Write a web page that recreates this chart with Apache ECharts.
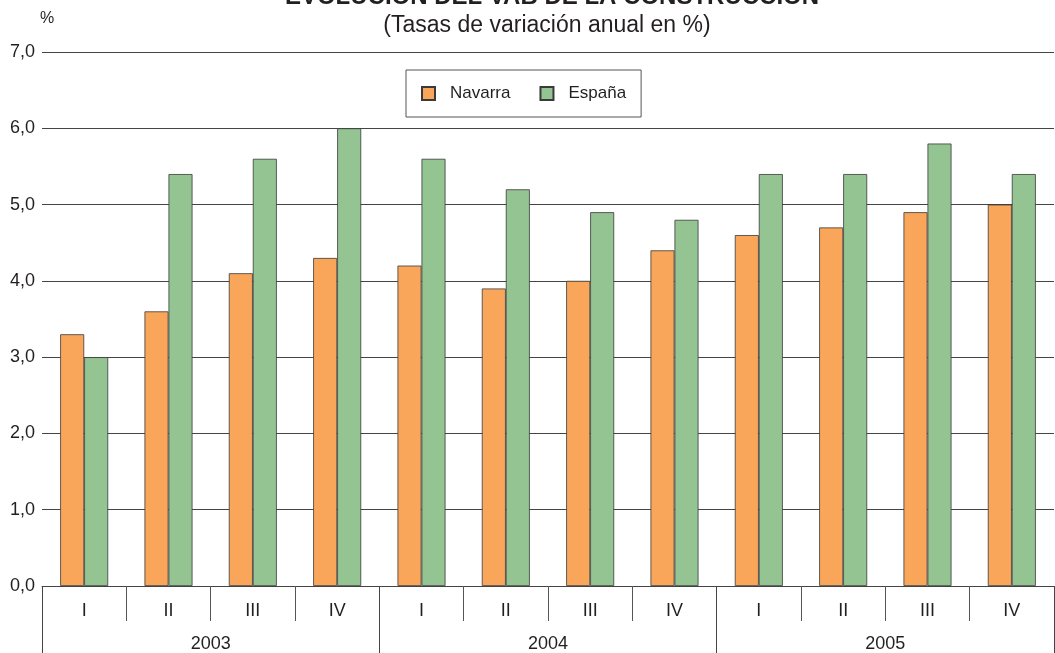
<!DOCTYPE html>
<html>
<head>
<meta charset="utf-8">
<script src="https://cdn.jsdelivr.net/npm/echarts@6/dist/echarts.min.js"></script>
<style>html,body{margin:0;padding:0;background:#fff;}#c{width:1055px;height:653px;}</style>
</head>
<body>
<div id="c"></div>
<script>
var quarters = ['I','II','III','IV','I','II','III','IV','I','II','III','IV'];
var years = ['2003','2004','2005'];
var navarra = [3.3, 3.6, 4.1, 4.3, 4.2, 3.9, 4.0, 4.4, 4.6, 4.7, 4.9, 5.0];
var espana = [3.0, 5.4, 5.6, 6.0, 5.6, 5.2, 4.9, 4.8, 5.4, 5.4, 5.8, 5.4];
var seriesNames = ['Navarra', 'España'];

var font = '"Liberation Sans", Arial, sans-serif';
var txt = '#231f20';
var chart = echarts.init(document.getElementById('c'));
chart.setOption({
  animation: false,
  textStyle: {fontFamily: font},
  title: [
    {text: 'EVOLUCIÓN DEL VAB DE LA CONSTRUCCIÓN', left: 547, textAlign: 'center', top: -20,
     textStyle: {fontSize: 24, fontWeight: 'bold', color: txt, fontFamily: font}},
    {text: '(Tasas de variación anual en %)', left: 542, textAlign: 'center', top: 9,
     textStyle: {fontSize: 23, fontWeight: 'normal', color: txt, fontFamily: font}},
    {text: '%', left: 35, top: 6, textStyle: {fontSize: 16, fontWeight: 'normal', color: txt, fontFamily: font}}
  ],
  legend: {
    data: seriesNames,
    left: 406, top: 70,
    padding: [15, 15, 15, 15],
    borderColor: '#555', borderWidth: 1,
    itemWidth: 13, itemHeight: 13, itemGap: 29,
    icon: 'rect',
    textStyle: {fontSize: 17, color: txt, fontFamily: font, padding: [0, 0, 0, 10]}
  },
  grid: {left: 42, right: 1, top: 52, bottom: 64, containLabel: false},
  xAxis: [
    {type: 'category', data: quarters, position: 'bottom',
     axisLine: {lineStyle: {color: '#444', width: 1}},
     axisTick: {show: true, length: 35, interval: 0, lineStyle: {color: '#555'}},
     axisLabel: {interval: 0, margin: 16, fontSize: 18, color: txt}},
    {type: 'category', data: years, position: 'bottom',
     axisLine: {show: false},
     axisTick: {show: true, length: 70, interval: 0, lineStyle: {color: '#444'}},
     axisLabel: {interval: 0, margin: 49, fontSize: 18, color: txt}}
  ],
  yAxis: {
    type: 'value', min: 0, max: 7, interval: 1,
    axisLine: {show: false}, axisTick: {show: false},
    axisLabel: {margin: 7, fontSize: 18, color: txt,
      formatter: function(v){return v.toFixed(1).replace('.', ',');}},
    splitLine: {lineStyle: {color: '#444', width: 1}}
  },
  series: [
    {name: seriesNames[0], type: 'bar', data: navarra, barWidth: 24, barGap: '0%',
     itemStyle: {color: '#F9A65A', borderColor: '#3a3a3a', borderWidth: 0.8}},
    {name: seriesNames[1], type: 'bar', data: espana, barWidth: 24, barGap: '0%',
     itemStyle: {color: '#93C492', borderColor: '#3a3a3a', borderWidth: 0.8}}
  ]
});
</script>
</body>
</html>
